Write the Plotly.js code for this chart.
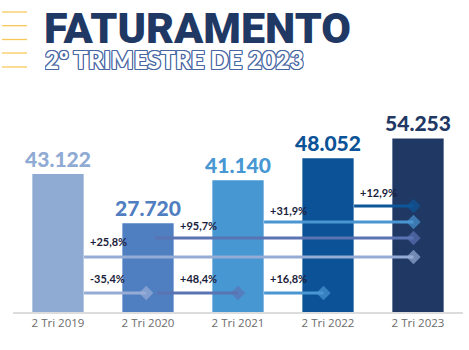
<!DOCTYPE html>
<html>
<head>
<meta charset="utf-8">
<script src="https://cdn.plot.ly/plotly-3.0.1.min.js"></script>
<style>html,body{margin:0;padding:0;background:#fff;}#chart{width:469px;height:350px;}</style>
</head>
<body>
<div id="chart"></div>
<script>
// ---- data ----
const categories = ['2 Tri 2019', '2 Tri 2020', '2 Tri 2021', '2 Tri 2022', '2 Tri 2023'];
const revenue = [43122, 27720, 41140, 48052, 54253];
const valueLabels = ['43.122', '27.720', '41.140', '48.052', '54.253'];
const growthFrom = [0, 1, 2, 0, 1, 2, 3];
const growthTo = [1, 2, 3, 4, 4, 4, 4];
const growthLabels = ['-35,4%', '+48,4%', '+16,8%', '+25,8%', '+95,7%', '+31,9%', '+12,9%'];

// ---- styles / layout helpers ----
const barColors = ['#8faad3', '#4f7ec1', '#4797d3', '#0b5396', '#1f3864'];
const lineColors = ['#96acd4', '#5a74b3', '#4a96d2', '#0d5699'];
const M = {l: 13, r: 6, t: 100, b: 38};
const W = 469, H = 350;
const plotW = W - M.l - M.r, plotH = H - M.t - M.b;
const yMax = 66250;
const pyToData = py => (H - M.b - py) / plotH * yMax;
const pyToPaper = py => (H - M.b - py) / plotH;
const pxToPaper = px => (px - M.l) / plotW;

const rowPx = [293, 293, 293, 257, 238, 222, 206];
const startOff = [0.29, 0.1, 0.29, 0.29, 0.08, 0.29, 0.29];
const endOff = [-0.02, 0, -0.05, -0.05, -0.05, -0.05, -0.05];
const labelDy = [15, 15, 15, 16, 13, 12, 14];

const traces = [{
  type: 'bar',
  x: categories.map((c, i) => i),
  y: revenue,
  width: 0.57,
  marker: {color: barColors, line: {width: 0}},
  text: valueLabels,
  textposition: 'outside',
  constraintext: 'none',
  cliponaxis: false,
  textfont: {family: 'Lato', size: 21, weight: 900, color: barColors},
  hoverinfo: 'skip'
}];

const annotations = [];
growthFrom.forEach((f, k) => {
  const t = growthTo[k];
  const yv = pyToData(rowPx[k]);
  traces.push({
    type: 'scatter', mode: 'lines+markers',
    x: [f + startOff[k], t + endOff[k]],
    y: [yv, yv],
    line: {color: lineColors[f], width: 3},
    marker: {symbol: 'diamond', size: [0, 11], color: lineColors[f], line: {width: 0}},
    cliponaxis: false, hoverinfo: 'skip'
  });
  annotations.push({
    x: f + 0.33, y: yv, xref: 'x', yref: 'y',
    xanchor: 'left', yanchor: 'middle', yshift: labelDy[k],
    text: growthLabels[k], showarrow: false,
    font: {family: 'Lato', size: 11, weight: 700, color: '#1b1d3c'}
  });
});

annotations.push({
  x: pxToPaper(42), y: pyToPaper(10), xref: 'paper', yref: 'paper',
  xanchor: 'left', yanchor: 'top', showarrow: false, height: 32, valign: 'middle',
  text: 'FATURAMENTO',
  font: {family: 'Roboto', size: 43, weight: 900, color: '#1f3864'}
});
const oc = '#4766a2';
annotations.push({
  x: pxToPaper(43), y: pyToPaper(46), xref: 'paper', yref: 'paper',
  xanchor: 'left', yanchor: 'top', showarrow: false, height: 22, valign: 'middle',
  text: '2º TRIMESTRE DE 2023',
  font: {family: 'Lato', size: 24, weight: 900, color: '#ffffff',
    shadow: `1px 0 0 ${oc}, -1px 0 0 ${oc}, 0 1px 0 ${oc}, 0 -1px 0 ${oc}, 1px 1px 0 ${oc}, -1px -1px 0 ${oc}, 1px -1px 0 ${oc}, -1px 1px 0 ${oc}`}
});

const shapes = [12, 25.7, 39.5, 53, 67].map(py => ({
  type: 'line', xref: 'paper', yref: 'paper',
  x0: pxToPaper(2), x1: pxToPaper(27), y0: pyToPaper(py), y1: pyToPaper(py),
  line: {color: '#f8c95a', width: 1.3}
}));

const layout = {
  width: W, height: H,
  margin: M,
  paper_bgcolor: '#ffffff', plot_bgcolor: '#ffffff',
  showlegend: false,
  xaxis: {
    type: 'linear', range: [-0.5, 4.5], fixedrange: true,
    tickvals: [0, 1, 2, 3, 4], ticktext: categories,
    showgrid: false, zeroline: false, ticks: '',
    showline: true, linecolor: '#dcdcdc', linewidth: 1.5,
    tickfont: {family: 'Open Sans', size: 11.5, color: '#6b6b6b'}
  },
  yaxis: {range: [0, yMax], visible: false, fixedrange: true},
  annotations: annotations,
  shapes: shapes
};

Plotly.newPlot('chart', traces, layout, {staticPlot: true, displayModeBar: false});
</script>
</body>
</html>
